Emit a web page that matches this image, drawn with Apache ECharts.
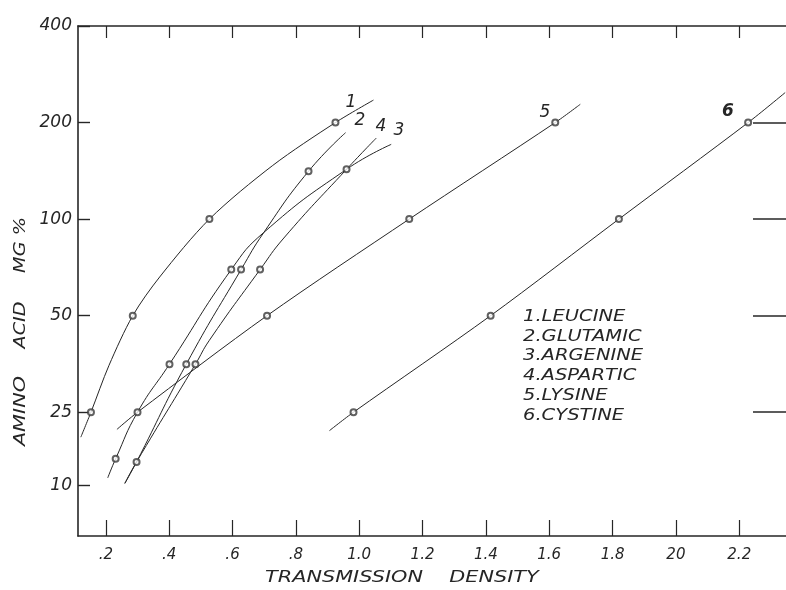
<!DOCTYPE html>
<html>
<head>
<meta charset="utf-8">
<title>Amino acid vs transmission density</title>
<script src="https://cdn.jsdelivr.net/npm/echarts@6/dist/echarts.min.js"></script>
<style>
html, body { margin: 0; padding: 0; background: #fff; }
#chart { width: 786px; height: 590px; }
</style>
</head>
<body>
<div id="chart"></div>
<script>
// curves: [transmission density, amino acid mg %]
const leucine = [[0.121, 20.9], [0.153, 25], [0.210, 35], [0.285, 50], [0.370, 66], [0.527, 100], [0.727, 147], [0.925, 200], [1.045, 235]]
const glutamic = [[0.260, 15.0], [0.297, 17.5], [0.454, 35.3], [0.627, 69.6], [0.699, 90.9], [0.840, 141], [0.957, 186]]
const argenine = [[0.206, 15.6], [0.231, 17.9], [0.300, 25], [0.401, 35.3], [0.596, 69.6], [0.699, 90.9], [0.960, 143], [1.101, 171]]
const aspartic = [[0.260, 15.0], [0.297, 17.5], [0.483, 35.3], [0.527, 41.9], [0.687, 69.6], [0.762, 87.3], [0.960, 143], [1.054, 179]]
const lysine = [[0.235, 22.1], [0.300, 25], [0.709, 50], [1.158, 100], [1.619, 200], [1.698, 228]]
const cystine = [[0.906, 21.9], [0.982, 25], [1.415, 50], [1.820, 100], [2.228, 200], [2.345, 248]]

// measured points drawn as small open circles
const leucinePts = [[0.153, 25], [0.285, 50], [0.527, 100], [0.925, 200]]
const glutamicPts = [[0.297, 17.5], [0.454, 35.3], [0.627, 69.6], [0.840, 141]]
const argeninePts = [[0.231, 17.9], [0.401, 35.3], [0.596, 69.6]]
const asparticPts = [[0.483, 35.3], [0.687, 69.6], [0.960, 143]]
const lysinePts = [[0.300, 25], [0.709, 50], [1.158, 100], [1.619, 200]]
const cystinePts = [[0.982, 25], [1.415, 50], [1.820, 100], [2.228, 200]]

const xTickValues = [0.2, 0.4, 0.6, 0.8, 1.0, 1.2, 1.4, 1.6, 1.8, 2.0, 2.2]
const xTickLabels = ['.2', '.4', '.6', '.8', '1.0', '1.2', '1.4', '1.6', '1.8', '20', '2.2']
// the original prints its "10" well above the log position of 10
const yTickValues = [14.8, 25, 50, 100, 200, 400]
const yTickLabels = ['10', '25', '50', '100', '200', '400']
const rightTickValues = [25, 50, 100, 200]

const legendLines = ['1.LEUCINE', '2.GLUTAMIC', '3.ARGENINE', '4.ASPARTIC', '5.LYSINE', '6.CYSTINE']

const ink = '#262626'
const font = 'DejaVu Sans'

const curves = [
  { line: leucine, pts: leucinePts, smooth: 0.3 },
  { line: glutamic, pts: glutamicPts, smooth: 0.5 },
  { line: argenine, pts: argeninePts, smooth: 0.5 },
  { line: aspartic, pts: asparticPts, smooth: 0.5 },
  { line: lysine, pts: lysinePts, smooth: 0.3 },
  { line: cystine, pts: cystinePts, smooth: 0.3 }
]

// curve numbers as lettered on the sheet
const curveTags = [
  { text: '1', x: 351, y: 103 },
  { text: '2', x: 360, y: 121 },
  { text: '4', x: 381, y: 127 },
  { text: '3', x: 399, y: 131 },
  { text: '5', x: 545, y: 113 },
  { text: '6', x: 728, y: 112, bold: true }
]

function nearestLabel(v, values, labels) {
  let best = 0
  values.forEach((t, i) => {
    if (Math.abs(Math.log(t) - Math.log(v)) < Math.abs(Math.log(values[best]) - Math.log(v))) best = i
  })
  return labels[best]
}

const series = []
curves.forEach(c => {
  series.push({
    type: 'line',
    data: c.line,
    showSymbol: false,
    smooth: c.smooth,
    silent: true,
    lineStyle: { color: ink, width: 1 },
    z: 2
  })
  series.push({
    type: 'scatter',
    data: c.pts,
    symbol: 'emptyCircle',
    symbolSize: 6,
    silent: true,
    itemStyle: { color: '#3a3a3a', borderWidth: 1 },
    z: 3
  })
})

const chart = echarts.init(document.getElementById('chart'))

const axisLine = { show: true, lineStyle: { color: ink, width: 1.6 } }

function word(text, x, y, opts) {
  return Object.assign({
    type: 'text',
    x: x,
    y: y,
    silent: true,
    style: {
      text: text,
      fill: ink,
      font: 'italic 16px ' + font,
      align: 'center',
      verticalAlign: 'middle'
    }
  }, opts)
}

const option = {
  backgroundColor: '#fff',
  animation: false,
  grid: { left: 78, top: 26, width: 712, bottom: 54 },
  xAxis: [
    {
      type: 'value',
      min: 0.1121,
      max: 2.3476,
      axisLine: axisLine,
      axisTick: { show: true, inside: true, length: 16, customValues: xTickValues, lineStyle: { color: ink, width: 1.2 } },
      axisLabel: {
        customValues: xTickValues,
        margin: 12,
        color: ink,
        fontFamily: font,
        fontStyle: 'italic',
        fontSize: 15,
        formatter: v => nearestLabel(v, xTickValues, xTickLabels)
      },
      splitLine: { show: false }
    },
    {
      type: 'value',
      position: 'top',
      min: 0.1121,
      max: 2.3476,
      axisLine: axisLine,
      axisTick: { show: true, inside: true, length: 12, customValues: xTickValues, lineStyle: { color: ink, width: 1.2 } },
      axisLabel: { show: false },
      splitLine: { show: false }
    }
  ],
  yAxis: [
    {
      type: 'log',
      logBase: 2,
      min: 10.28,
      max: 400,
      axisLine: axisLine,
      axisTick: { show: true, inside: true, length: 12, customValues: yTickValues, lineStyle: { color: ink, width: 1.4 } },
      axisLabel: {
        customValues: yTickValues,
        margin: 6,
        color: ink,
        fontFamily: font,
        fontStyle: 'italic',
        fontSize: 17,
        formatter: v => nearestLabel(v, yTickValues, yTickLabels)
      },
      splitLine: { show: false }
    },
    {
      type: 'log',
      logBase: 2,
      position: 'right',
      min: 10.28,
      max: 400,
      axisLine: { show: false },
      axisTick: { show: true, inside: true, length: 33, customValues: rightTickValues, lineStyle: { color: ink, width: 1.6 } },
      axisLabel: { show: false },
      splitLine: { show: false }
    }
  ],
  graphic: [
    ...curveTags.map(t => word(t.text, t.x, t.y, {
      style: {
        text: t.text,
        fill: ink,
        font: (t.bold ? 'italic bold ' : 'italic ') + '17px ' + font,
        align: 'center',
        verticalAlign: 'middle'
      }
    })),
    {
      type: 'text',
      x: 523,
      y: 307,
      scaleX: 1.3,
      silent: true,
      style: {
        text: legendLines.join('\n'),
        fill: ink,
        font: 'italic 15px ' + font,
        lineHeight: 19.8
      }
    },
    word('TRANSMISSION', 344, 578, { scaleX: 1.3 }),
    word('DENSITY', 494, 578, { scaleX: 1.3 }),
    word('AMINO', 21, 411, { rotation: Math.PI / 2, scaleX: 1.3 }),
    word('ACID', 21, 325, { rotation: Math.PI / 2, scaleX: 1.2 }),
    word('MG %', 21, 245, { rotation: Math.PI / 2, scaleX: 1.2 })
  ],
  series: series
}

chart.setOption(option)
</script>
</body>
</html>
